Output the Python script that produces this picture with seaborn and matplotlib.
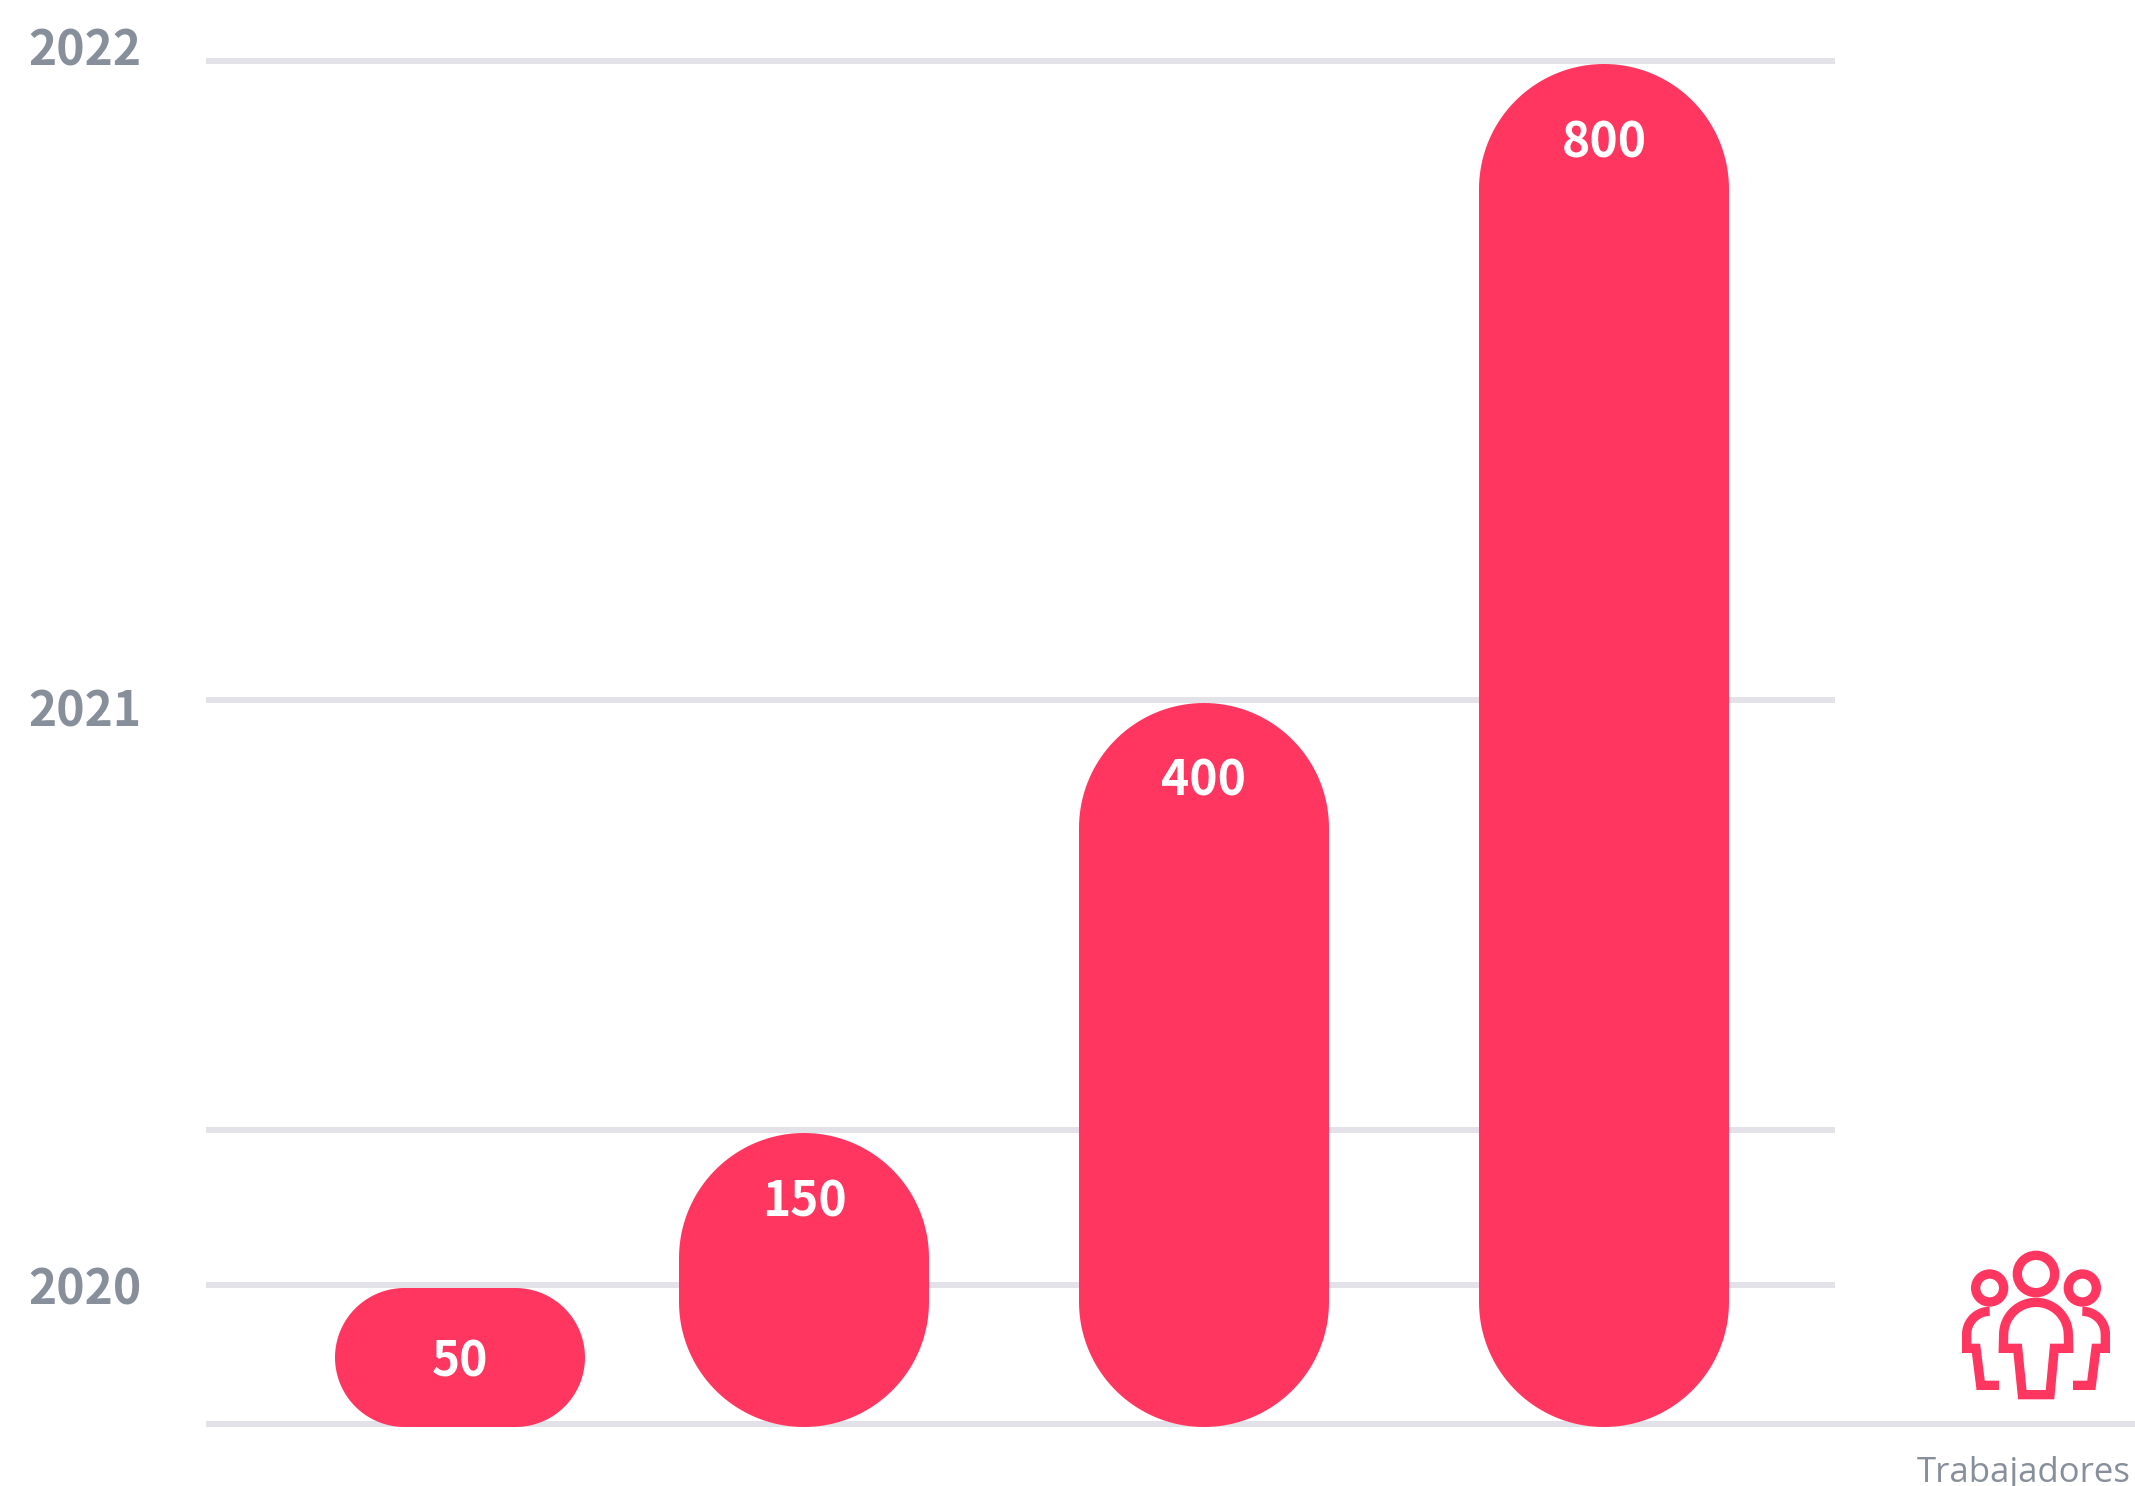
import numpy as np
import pandas as pd
import matplotlib
matplotlib.use("Agg")
import matplotlib.pyplot as plt
import seaborn as sns
from matplotlib.patches import Circle, Polygon
from matplotlib.transforms import IdentityTransform, ScaledTranslation

# Chart values
workers = [50, 150, 400, 800]
bar_positions = [0, 0.86, 1.86, 2.86]
grid_values = [0, 50, 150, 400, 800]
grid_labels = ["", "2020", "", "2021", "2022"]
axis_title = "Trabajadores"

# The original y axis is not linear, this maps values to axis height
scale_values = [0, 50, 150, 400, 800]
scale_heights = [0, 139, 294, 724, 1363]

RED = "#FF3660"
GREY = "#87909A"
GRID = "#E2E2E8"
BOLD_FONT = ["Noto Sans CJK SC", "DejaVu Sans"]
W, H, DPI = 2135, 1486, 100


def to_height(v):
    return np.interp(v, scale_values, scale_heights)


def from_height(h):
    return np.interp(h, scale_heights, scale_values)


def arc(cx, cy, r, a0, a1):
    t = np.radians(np.linspace(a0, a1, 40))
    return cx + r * np.cos(t), cy + r * np.sin(t)


def pill_outline(x0, y0, x1, y1):
    r = min(x1 - x0, y1 - y0) / 2
    corners = [(x1 - r, y1 - r, 0, 90), (x0 + r, y1 - r, 90, 180),
               (x0 + r, y0 + r, 180, 270), (x1 - r, y0 + r, 270, 360)]
    parts = [np.column_stack(arc(cx, cy, r, a0, a1)) for cx, cy, a0, a1 in corners]
    return np.vstack(parts), r


sns.set_theme(style="white")
plt.rcParams["font.family"] = ["Open Sans", "DejaVu Sans"]

fig = plt.figure(figsize=(W / DPI, H / DPI), dpi=DPI)
ax = fig.add_axes([206 / W, (H - 1424) / H, (1835 - 206) / W, 1363 / H])

df = pd.DataFrame({"pos": bar_positions, "workers": workers})
sns.barplot(data=df, x="pos", y="workers", native_scale=True, width=0.625 / 0.86,
            color=RED, saturation=1, ax=ax)

ax.set_yscale("function", functions=(to_height, from_height))
ax.set_xlim(-0.635, 3.4375)
ax.set_ylim(0, 800)
ax.set_xlabel("")
ax.set_ylabel("")
ax.set_xticks([])
sns.despine(ax=ax, left=True, bottom=True)

ax.set_yticks(grid_values, labels=grid_labels)
ax.yaxis.set_minor_locator(plt.NullLocator())
ax.tick_params(axis="y", length=0, pad=128, labelsize=34.5, labelcolor=GREY)
ax.grid(True, axis="y", color=GRID, lw=6 * 72 / DPI)
ax.set_axisbelow(True)
for line in ax.yaxis.get_gridlines():
    line.set_clip_on(False)
    line.set_solid_capstyle("butt")

label_shift = {"2020": 0, "2021": -7, "2022": 15, "": 0}
for label in ax.get_yticklabels():
    label.set_ha("left")
    label.set_family(BOLD_FONT)
    label.set_fontweight("bold")
    shift = label_shift[label.get_text()] / DPI
    label.set_transform(label.get_transform() + ScaledTranslation(0, shift, fig.dpi_scale_trans))

# bottom line runs on to the right edge of the picture
ax.plot([0, (W - 206) / (1835 - 206)], [0, 0], color=GRID, lw=6 * 72 / DPI, clip_on=False,
        solid_capstyle="butt", transform=ax.get_yaxis_transform(), zorder=1)

# swap the square bars for pills of the same size
fig.canvas.draw()
bars = list(ax.patches)
label_drop = [69, 64, 73, 74]
for bar, value, drop in zip(bars, workers, label_drop):
    x0, y0 = ax.transData.transform((bar.get_x(), 0))
    x1, y1 = ax.transData.transform((bar.get_x() + bar.get_width(), value))
    outline, r = pill_outline(x0, y0 - 3, x1, y1 - 3)
    ax.add_patch(Polygon(outline, closed=True, fc=RED, ec="none", clip_on=False,
                         transform=IdentityTransform(), zorder=3))
    center = bar.get_x() + bar.get_width() / 2
    bar.remove()
    ax.annotate(str(value), (center, value), xytext=(0, -(drop + 3) * 72 / DPI),
                textcoords="offset points", ha="center", va="center_baseline",
                color="white", fontsize=34.5, fontweight="bold", family=BOLD_FONT,
                zorder=4)

fig.text(2131 / W, (H - 1482) / H, axis_title, ha="right", va="baseline",
         color=GREY, fontsize=25)

# people icon, in its own little axes
icon = fig.add_axes([1850 / W, 0, 285 / W, 286 / H])
icon.set_xlim(0, 855)
icon.set_ylim(858, 0)
icon.axis("off")
icon_lw = 28 / 3 * 72 / DPI
stroke = dict(color=RED, lw=icon_lw, solid_capstyle="butt", solid_joinstyle="miter")

for cx, cy, r in [(558, 222, 56), (419, 264, 42), (697, 264, 42)]:
    icon.add_patch(Circle((cx, cy), r, fill=False, ec=RED, lw=icon_lw))

xs, ys = arc(558, 404, 97, 180, 360)
icon.fill(np.r_[517, 503, 460, xs, 656, 613, 600],
          np.r_[584, 445, 445, ys, 445, 445, 584],
          fc="none", ec=RED, lw=icon_lw, joinstyle="miter")
xs, ys = arc(419, 403, 69, 270, 180)
icon.plot(np.r_[xs, 350, 378, 392, 447], np.r_[ys, 445, 445, 556, 556], **stroke)
xs, ys = arc(697, 403, 69, 270, 360)
icon.plot(np.r_[xs, 766, 738, 724, 669], np.r_[ys, 445, 445, 556, 556], **stroke)

fig.savefig("out.png", dpi=DPI)
